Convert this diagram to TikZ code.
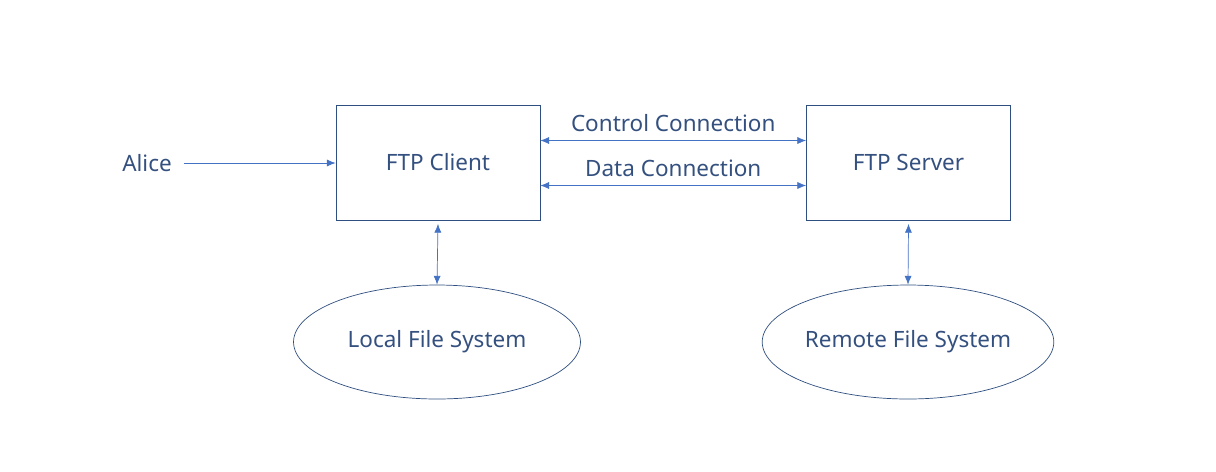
\documentclass[tikz,border=0pt]{standalone}
\usepackage{fontspec}
\setmainfont{Noto Sans}
\usepackage{xcolor}
\usetikzlibrary{shapes.geometric,arrows.meta,positioning}

\definecolor{boxline}{HTML}{2F4F80}
\definecolor{linkline}{HTML}{4472C4}
\definecolor{labeltext}{HTML}{34507F}

\begin{document}
\begin{tikzpicture}[
    x=0.02cm, y=-0.02cm,
    font=\fontsize{12.8}{15}\selectfont,
    text=labeltext,
    block/.style={rectangle, draw=boxline, thin, minimum width=4.08cm, minimum height=2.3cm},
    store/.style={ellipse, draw=boxline, thin, inner sep=0pt, minimum width=5.74cm, minimum height=2.28cm},
    tag/.style={above, inner sep=5pt, text=labeltext},
    link/.style={{Latex[length=5pt,width=4pt]}-{Latex[length=5pt,width=4pt]}, linkline, thin},
    arrow/.style={-{Latex[length=5pt,width=4pt]}, linkline, thin}
]
    \useasboundingbox (0,0) rectangle (1216,471);

    \node[block] (client) at (438,162.5) {FTP Client};
    \node[block] (server) at (908.5,162.5) {FTP Server};
    \node[store] (local) at (437,342) {Local File System};
    \node[store] (remote) at (908,342) {Remote File System};
    \node[inner sep=0pt] (alice) at (147,163) {Alice};

    \draw[arrow] ([xshift=6.5pt]alice.east) -- (client.west |- alice.east);
    \draw[link] ([yshift=0.44cm]client.east) -- node[tag] {Control Connection} ([yshift=0.44cm]server.west);
    \draw[link] ([yshift=-0.46cm]client.east) -- node[tag] {Data Connection} ([yshift=-0.46cm]server.west);
    \draw[link] ([yshift=-2pt]client.south) -- (local.north);
    \draw[link] ([yshift=-2pt]server.south) -- (remote.north);

\end{tikzpicture}
\end{document}
